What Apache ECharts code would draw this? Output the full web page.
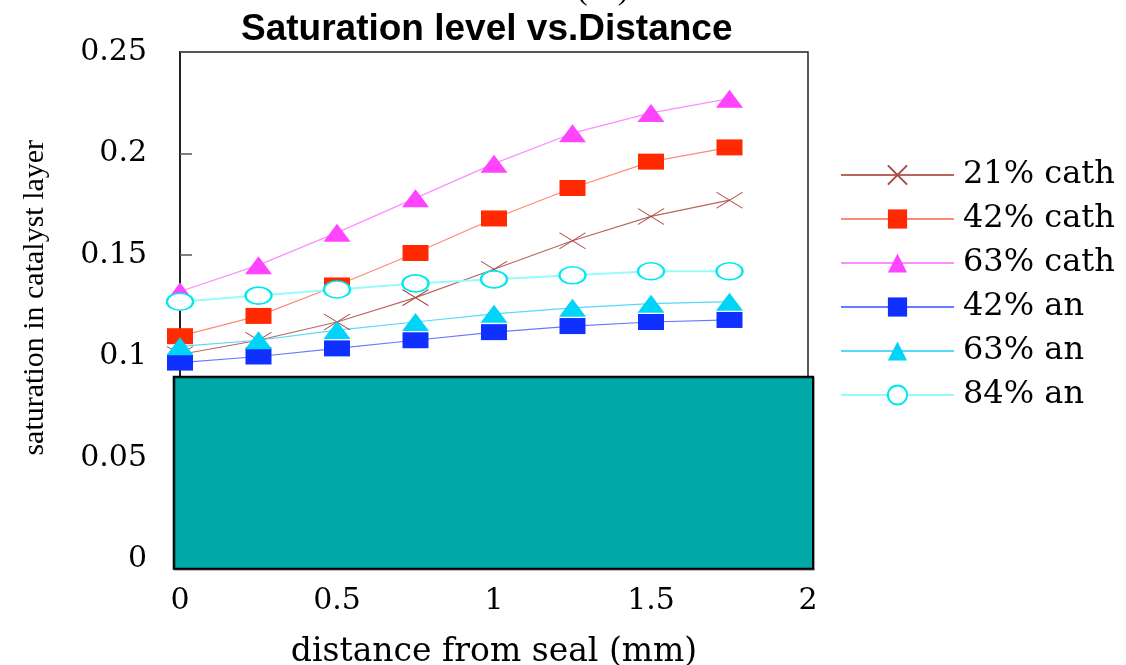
<!DOCTYPE html>
<html>
<head>
<meta charset="utf-8">
<script src="https://cdn.jsdelivr.net/npm/echarts@6/dist/echarts.min.js"></script>
<style>
  html, body { margin: 0; padding: 0; background: #fff; }
  #chart { width: 1126px; height: 665px; }
</style>
</head>
<body>
<div id="chart"></div>
<script>
// distance from seal (mm)
var distance = [0, 0.25, 0.5, 0.75, 1, 1.25, 1.5, 1.75];
// saturation in catalyst layer
var cath21 = [0.101, 0.108, 0.117, 0.129, 0.143, 0.157, 0.169, 0.177];
var cath42 = [0.110, 0.120, 0.135, 0.151, 0.168, 0.183, 0.196, 0.203];
var cath63 = [0.132, 0.145, 0.161, 0.178, 0.195, 0.210, 0.220, 0.227];
var an42 = [0.097, 0.100, 0.104, 0.108, 0.112, 0.115, 0.117, 0.118];
var an63 = [0.105, 0.108, 0.113, 0.117, 0.121, 0.124, 0.126, 0.127];
var an84 = [0.127, 0.130, 0.133, 0.136, 0.138, 0.140, 0.142, 0.142];
var seriesNames = ['21% cath', '42% cath', '63% cath', '42% an', '63% an', '84% an'];
var xTicks = [0, 0.5, 1, 1.5, 2];
var yTicks = [0, 0.05, 0.1, 0.15, 0.2, 0.25];

var serif = 'DejaVu Serif';
var markSize = [26, 16];

function pairs(ys) {
    return ys.map(function (y, i) { return [distance[i], y]; });
}

var chart = echarts.init(document.getElementById('chart'));

var option = {
    backgroundColor: '#fff',
    animation: false,
    title: {
        text: 'Saturation level vs.Distance',
        left: 241,
        top: 11,
        padding: 0,
        textStyle: {
            fontFamily: 'Liberation Sans',
            fontWeight: 'bold',
            fontSize: 37,
            color: '#000'
        }
    },
    grid: {
        left: 180,
        right: 318,
        top: 52,
        bottom: 105.5,
        outerBoundsMode: 'none',
        show: true,
        borderColor: '#222',
        borderWidth: 1.5,
        backgroundColor: 'transparent'
    },
    legend: {
        orient: 'vertical',
        left: 835,
        top: 152,
        itemWidth: 113,
        itemHeight: 24,
        itemGap: 8,
        data: seriesNames,
        textStyle: {
            fontFamily: serif,
            fontSize: 32,
            lineHeight: 36,
            color: '#000',
            padding: [0, 0, 0, 4]
        }
    },
    xAxis: {
        type: 'value',
        min: xTicks[0],
        max: xTicks[xTicks.length - 1],
        interval: xTicks[1] - xTicks[0],
        name: 'distance from seal (mm)',
        nameLocation: 'middle',
        nameGap: 76,
        nameTextStyle: { fontFamily: serif, fontSize: 33, color: '#000' },
        axisLine: { show: false },
        axisTick: { show: false },
        splitLine: { show: false },
        axisLabel: { margin: 27, fontFamily: serif, fontSize: 30, color: '#000' }
    },
    yAxis: {
        type: 'value',
        min: yTicks[0],
        max: yTicks[yTicks.length - 1],
        interval: yTicks[1] - yTicks[0],
        name: 'saturation in catalyst layer',
        nameLocation: 'middle',
        nameGap: 130,
        nameTextStyle: { fontFamily: 'Liberation Serif', fontSize: 30, color: '#000', padding: [0, 0, 0, 16] },
        axisLine: { show: true, lineStyle: { color: '#222', width: 2 } },
        axisTick: { show: true, inside: true, length: 12, lineStyle: { color: '#555', width: 1.5 } },
        splitLine: { show: false },
        axisLabel: { margin: 33, fontFamily: serif, fontSize: 30, color: '#000' }
    },
    series: [
        {
            name: seriesNames[0],
            type: 'line',
            data: pairs(cath21),
            symbol: 'path://M0,0L26,16M26,0L0,16',
            symbolSize: markSize,
            itemStyle: { color: '#a84a40', borderColor: '#a84a40', borderWidth: 1 },
            lineStyle: { color: '#b8675e', width: 1.2 },
            z: 3
        },
        {
            name: seriesNames[1],
            type: 'line',
            data: pairs(cath42),
            symbol: 'rect',
            symbolSize: markSize,
            itemStyle: { color: '#ff2a00' },
            lineStyle: { color: '#ff8a74', width: 1.2 },
            z: 3
        },
        {
            name: seriesNames[2],
            type: 'line',
            data: pairs(cath63),
            symbol: 'triangle',
            symbolSize: [27, 18],
            itemStyle: { color: '#ff44ff' },
            lineStyle: { color: '#ff8cff', width: 1.2 },
            z: 3
        },
        {
            name: seriesNames[3],
            type: 'line',
            data: pairs(an42),
            symbol: 'rect',
            symbolSize: markSize,
            itemStyle: { color: '#1030ff' },
            lineStyle: { color: '#6a78ff', width: 1.2 },
            z: 3
        },
        {
            name: seriesNames[4],
            type: 'line',
            data: pairs(an63),
            symbol: 'triangle',
            symbolSize: [27, 18],
            itemStyle: { color: '#00d4f8' },
            lineStyle: { color: '#5ad8f8', width: 1.2 },
            z: 3
        },
        {
            name: seriesNames[5],
            type: 'line',
            data: pairs(an84),
            symbol: 'emptyCircle',
            symbolSize: [26, 17],
            itemStyle: { color: '#00e8f0', borderColor: '#00e8f0', borderWidth: 1.5 },
            lineStyle: { color: '#98fafa', width: 2 },
            z: 3
        }
    ]
};

chart.setOption(option);

// teal block lying over the lower part of the plot, plus the clipped label at the top
var tl = chart.convertToPixel({ gridIndex: 0 }, [-0.02, 0.09]);
var br = chart.convertToPixel({ gridIndex: 0 }, [2.016, -0.0045]);
chart.setOption({
    graphic: [
        {
            type: 'rect',
            z: 100,
            shape: { x: tl[0], y: tl[1], width: br[0] - tl[0], height: br[1] - tl[1] },
            style: {
                fill: '#00a8a8',
                stroke: '#000',
                lineWidth: 2,
                shadowColor: 'rgba(0,0,0,0.35)',
                shadowOffsetX: 1,
                shadowOffsetY: 1
            }
        },
        {
            type: 'text',
            z: 100,
            left: 577,
            top: -25,
            style: { text: '( a )', font: '32px "Liberation Serif"', fill: '#000' }
        }
    ]
});
</script>
</body>
</html>
